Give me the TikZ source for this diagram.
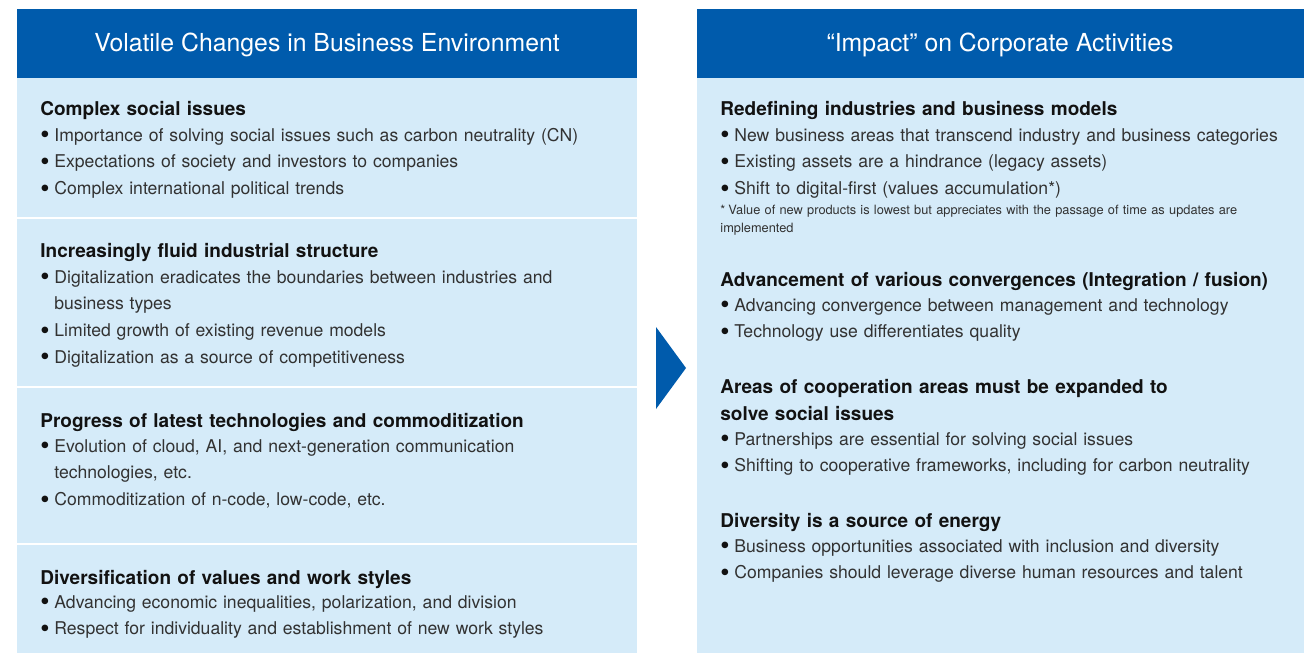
\documentclass[tikz,border=0pt]{standalone}
\usepackage{fontspec}
\usepackage{graphicx}
\setmainfont{TeX Gyre Heros}
\usetikzlibrary{positioning}
\definecolor{hdblue}{RGB}{0,91,172}
\definecolor{bgblue}{RGB}{213,235,249}
\definecolor{txtgray}{RGB}{50,50,50}
\definecolor{hdgray}{RGB}{18,18,18}
\newcommand{\bulitem}{\noindent\hangindent=7pt\hangafter=1\makebox[7pt][l]{\raisebox{-1.4pt}{\scalebox{1.5}{\color{hdgray}\textbullet}}}}
\newcommand{\bul}{\par\bulitem}
\newcommand{\notestar}{\noindent\hangindent=4pt\hangafter=1\makebox[4pt][l]{*}}

\begin{document}
\begin{tikzpicture}[x=0.5pt,y=-0.5pt,
    title/.style={text=white,inner sep=0pt,font=\fontsize{12.4}{14}\selectfont},
    head/.style={anchor=base west,text=hdgray,inner sep=0pt,text width=310pt,align=left,
        font=\fontsize{9.5}{13.5}\selectfont\bfseries},
    list/.style={anchor=base west,text=txtgray,inner sep=0pt,text width=310pt,align=left,
        font=\fontsize{8.8}{13.35}\selectfont},
    note/.style={anchor=base west,text=txtgray,inner sep=0pt,text width=310pt,align=left,
        font=\fontsize{6.4}{9}\selectfont}]
    \useasboundingbox (0,0) rectangle (1304,653);
    \fill[hdblue] (17,9) rectangle (637,78);
    \fill[bgblue] (17,78) rectangle (637,653);
    \fill[hdblue] (697,9) rectangle (1304,78);
    \fill[bgblue] (697,78) rectangle (1304,653);
    \foreach \y in {218,387,544}{\fill[white] (17,\y-1) rectangle (637,\y+1);}
    \fill[hdblue] (656,327) -- (686,368) -- (656,409) -- cycle;

    \node[title] (lefttitle) at (327,45) {Volatile Changes in Business Environment};
    \node[title] (righttitle) at (1000,45) {“Impact” on Corporate Activities};

    \node[head] (lhead1) at (40,115) {Complex social issues};
    \node[list] (llist1) at (40,141) {\bulitem Importance of solving social issues such as carbon neutrality (CN)
        \bul Expectations of society and investors to companies
        \bul Complex international political trends};
    \node[head] (lhead2) at (40,257) {Increasingly fluid industrial structure};
    \node[list] (llist2) at (40,283) {\bulitem Digitalization eradicates the boundaries between industries and\newline business types
        \bul Limited growth of existing revenue models
        \bul Digitalization as a source of competitiveness};
    \node[head] (lhead3) at (40,427) {Progress of latest technologies and commoditization};
    \node[list] (llist3) at (40,452) {\bulitem Evolution of cloud, AI, and next-generation communication\newline technologies, etc.
        \bul Commoditization of n-code, low-code, etc.};
    \node[head] (lhead4) at (40,584) {Diversification of values and work styles};
    \node[list] (llist4) at (40,608) {\bulitem Advancing economic inequalities, polarization, and division
        \bul Respect for individuality and establishment of new work styles};

    \node[head] (rhead1) at (720,115) {Redefining industries and business models};
    \node[list] (rlist1) at (720,141) {\bulitem New business areas that transcend industry and business categories
        \bul Existing assets are a hindrance (legacy assets)
        \bul Shift to digital-first (values accumulation*)};
    \node[note] (rnote) at (720,214) {\notestar Value of new products is lowest but appreciates with the passage of time as updates are\newline implemented};
    \node[head] (rhead2) at (720,286) {Advancement of various convergences (Integration / fusion)};
    \node[list] (rlist2) at (720,311) {\bulitem Advancing convergence between management and technology
        \bul Technology use differentiates quality};
    \node[head] (rhead3) at (720,393) {Areas of cooperation areas must be expanded to\\ solve social issues};
    \node[list] (rlist3) at (720,445) {\bulitem Partnerships are essential for solving social issues
        \bul Shifting to cooperative frameworks, including for carbon neutrality};
    \node[head] (rhead4) at (720,527) {Diversity is a source of energy};
    \node[list] (rlist4) at (720,552) {\bulitem Business opportunities associated with inclusion and diversity
        \bul Companies should leverage diverse human resources and talent};
\end{tikzpicture}
\end{document}
